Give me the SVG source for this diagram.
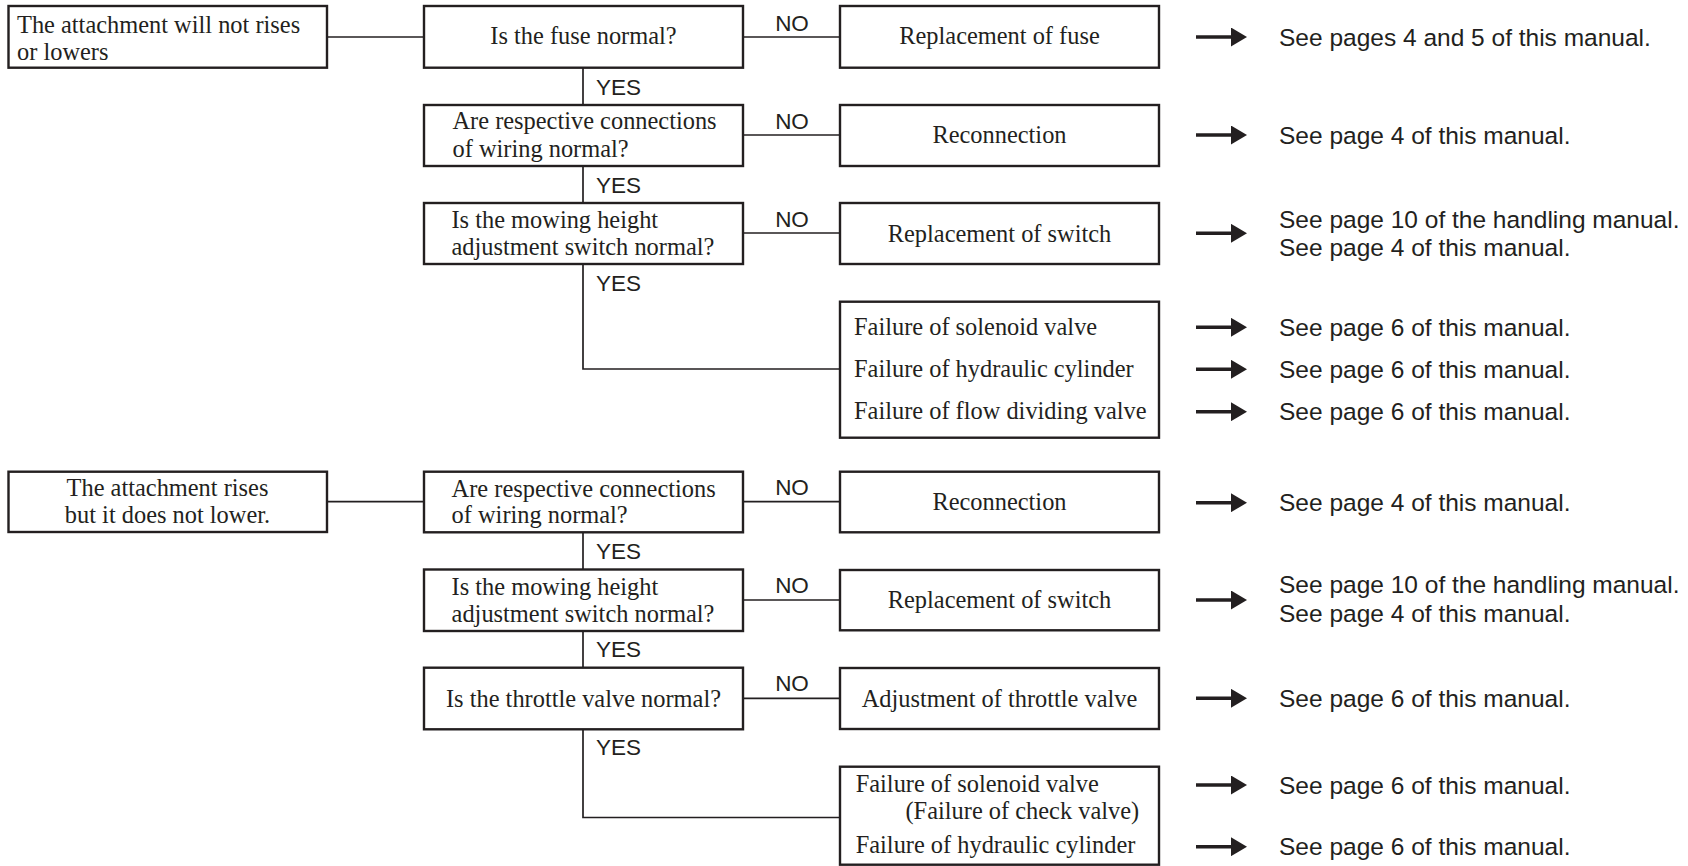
<svg xmlns="http://www.w3.org/2000/svg" width="1688" height="866" viewBox="0 0 1688 866">
<style>
.box{fill:#fff;stroke:#231f20;stroke-width:2.4}
.con{fill:none;stroke:#231f20;stroke-width:1.7}
.arr{stroke:#231f20;stroke-width:3.6}
.s{font-family:"Liberation Serif","Times New Roman",serif;font-size:24.4px;fill:#231f20}
.m{text-anchor:middle}
.lab{font-family:"Liberation Sans",Arial,sans-serif;font-size:22.5px;fill:#231f20}
.ref{font-family:"Liberation Sans",Arial,sans-serif;font-size:24.5px;fill:#231f20}
</style>
<defs>
<marker id="ah" markerUnits="userSpaceOnUse" markerWidth="16" markerHeight="19" refX="0" refY="9.5" orient="auto">
<path d="M0,0 L16,9.5 L0,19 Z" fill="#231f20"/>
</marker>
</defs>
<rect width="1688" height="866" fill="#fff"/>

<g id="connectors">
<line class="con" x1="327" y1="37" x2="424" y2="37"/>
<line class="con" x1="743" y1="37" x2="840" y2="37"/>
<line class="con" x1="743" y1="135" x2="840" y2="135"/>
<line class="con" x1="743" y1="233" x2="840" y2="233"/>
<line class="con" x1="583" y1="67.7" x2="583" y2="105"/>
<line class="con" x1="583" y1="166" x2="583" y2="203"/>
<polyline class="con" points="583,264 583,369 840,369"/>
<line class="con" x1="327" y1="501.7" x2="424" y2="501.7"/>
<line class="con" x1="743" y1="501.7" x2="840" y2="501.7"/>
<line class="con" x1="743" y1="600" x2="840" y2="600"/>
<line class="con" x1="743" y1="698.3" x2="840" y2="698.3"/>
<line class="con" x1="583" y1="532.3" x2="583" y2="569.5"/>
<line class="con" x1="583" y1="631" x2="583" y2="667.7"/>
<polyline class="con" points="583,729.3 583,817.5 840,817.5"/>
<g class="lab">
<text x="792" y="31" text-anchor="middle">NO</text>
<text x="792" y="129" text-anchor="middle">NO</text>
<text x="792" y="227" text-anchor="middle">NO</text>
<text x="596" y="95">YES</text>
<text x="596" y="193">YES</text>
<text x="596" y="291">YES</text>
<text x="792" y="495" text-anchor="middle">NO</text>
<text x="792" y="593.3" text-anchor="middle">NO</text>
<text x="792" y="691" text-anchor="middle">NO</text>
<text x="596" y="559.3">YES</text>
<text x="596" y="657.3">YES</text>
<text x="596" y="755">YES</text>
</g>
<g marker-end="url(#ah)">
<line class="arr" x1="1196" y1="37" x2="1231" y2="37"/>
<line class="arr" x1="1196" y1="135" x2="1231" y2="135"/>
<line class="arr" x1="1196" y1="233.3" x2="1231" y2="233.3"/>
<line class="arr" x1="1196" y1="327.3" x2="1231" y2="327.3"/>
<line class="arr" x1="1196" y1="369.3" x2="1231" y2="369.3"/>
<line class="arr" x1="1196" y1="411.7" x2="1231" y2="411.7"/>
<line class="arr" x1="1196" y1="502.7" x2="1231" y2="502.7"/>
<line class="arr" x1="1196" y1="600" x2="1231" y2="600"/>
<line class="arr" x1="1196" y1="698.3" x2="1231" y2="698.3"/>
<line class="arr" x1="1196" y1="785" x2="1231" y2="785"/>
<line class="arr" x1="1196" y1="846.7" x2="1231" y2="846.7"/>
</g>
</g>

<g id="start1">
<rect class="box" x="8.5" y="6" width="318.5" height="61.7"/>
<text class="s" x="17" y="33">The attachment will not rises</text>
<text class="s" x="17" y="59.5">or lowers</text>
</g>
<g id="q1">
<rect class="box" x="424" y="6" width="319" height="61.7"/>
<text class="s m" x="583.5" y="44">Is the fuse normal?</text>
</g>
<g id="q2">
<rect class="box" x="424" y="105" width="319" height="61"/>
<text class="s" x="452.5" y="129">Are respective connections</text>
<text class="s" x="452.5" y="157">of wiring normal?</text>
</g>
<g id="q3">
<rect class="box" x="424" y="203" width="319" height="61"/>
<text class="s" x="451.5" y="228">Is the mowing height</text>
<text class="s" x="451.5" y="255">adjustment switch normal?</text>
</g>
<g id="a1">
<rect class="box" x="840" y="6" width="319" height="61.7"/>
<text class="s m" x="999.5" y="44">Replacement of fuse</text>
</g>
<g id="a2">
<rect class="box" x="840" y="105" width="319" height="61"/>
<text class="s m" x="999.5" y="143">Reconnection</text>
</g>
<g id="a3">
<rect class="box" x="840" y="203" width="319" height="61"/>
<text class="s m" x="999.5" y="242">Replacement of switch</text>
</g>
<g id="f1">
<rect class="box" x="840" y="301.7" width="319" height="136"/>
<text class="s" x="854" y="335">Failure of solenoid valve</text>
<text class="s" x="854" y="377.3">Failure of hydraulic cylinder</text>
<text class="s" x="854" y="419.3">Failure of flow dividing valve</text>
</g>

<g id="start2">
<rect class="box" x="8.5" y="471.7" width="318.5" height="60.3"/>
<text class="s m" x="167.5" y="496">The attachment rises</text>
<text class="s m" x="167.5" y="523.3">but it does not lower.</text>
</g>
<g id="q4">
<rect class="box" x="424" y="471.7" width="319" height="60.6"/>
<text class="s" x="451.6" y="497">Are respective connections</text>
<text class="s" x="451.6" y="523">of wiring normal?</text>
</g>
<g id="q5">
<rect class="box" x="424" y="569.5" width="319" height="61.5"/>
<text class="s" x="451.6" y="595">Is the mowing height</text>
<text class="s" x="451.6" y="621.7">adjustment switch normal?</text>
</g>
<g id="q6">
<rect class="box" x="424" y="667.7" width="319" height="61.6"/>
<text class="s m" x="583.5" y="706.7">Is the throttle valve normal?</text>
</g>
<g id="a4">
<rect class="box" x="840" y="471.7" width="319" height="60.6"/>
<text class="s m" x="999.5" y="510">Reconnection</text>
</g>
<g id="a5">
<rect class="box" x="840" y="570" width="319" height="60.3"/>
<text class="s m" x="999.5" y="608.3">Replacement of switch</text>
</g>
<g id="a6">
<rect class="box" x="840" y="668" width="319" height="61"/>
<text class="s m" x="999.5" y="706.7">Adjustment of throttle valve</text>
</g>
<g id="f2">
<rect class="box" x="840" y="766.7" width="319" height="98"/>
<text class="s" x="855.7" y="792.3">Failure of solenoid valve</text>
<text class="s" x="905.5" y="819">(Failure of check valve)</text>
<text class="s" x="855.7" y="853.3">Failure of hydraulic cylinder</text>
</g>

<g id="refs" class="ref">
<text x="1279" y="45.5">See pages 4 and 5 of this manual.</text>
<text x="1279" y="143.5">See page 4 of this manual.</text>
<text x="1279" y="228.3">See page 10 of the handling manual.</text>
<text x="1279" y="256">See page 4 of this manual.</text>
<text x="1279" y="336">See page 6 of this manual.</text>
<text x="1279" y="378">See page 6 of this manual.</text>
<text x="1279" y="420">See page 6 of this manual.</text>
<text x="1279" y="511">See page 4 of this manual.</text>
<text x="1279" y="593.3">See page 10 of the handling manual.</text>
<text x="1279" y="621.7">See page 4 of this manual.</text>
<text x="1279" y="706.7">See page 6 of this manual.</text>
<text x="1279" y="793.5">See page 6 of this manual.</text>
<text x="1279" y="855">See page 6 of this manual.</text>
</g>
</svg>
